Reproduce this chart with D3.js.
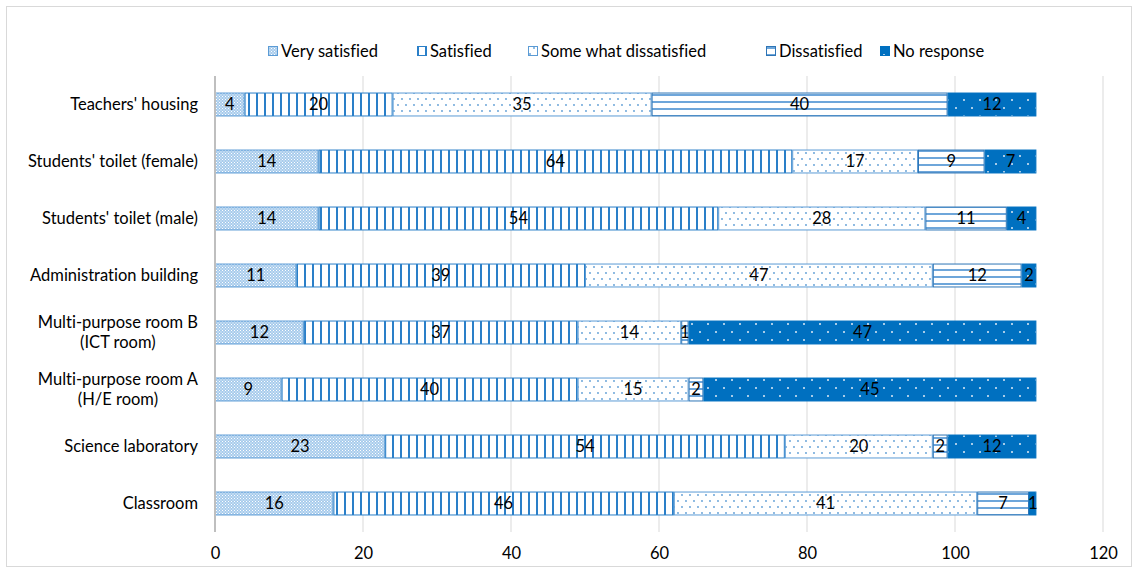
<!DOCTYPE html>
<html>
<head>
<meta charset="utf-8">
<script src="https://cdn.jsdelivr.net/npm/d3@7"></script>
<style>
  html, body { margin: 0; padding: 0; background: #fff; }
  svg { display: block; font-family: Lato, "Liberation Sans", sans-serif; font-variant-ligatures: none; }
</style>
</head>
<body>
<svg id="chart" width="1138" height="573"></svg>
<script>
// Categories, top to bottom
const categories = [
  "Teachers' housing",
  "Students' toilet (female)",
  "Students' toilet (male)",
  "Administration building",
  "Multi-purpose room B\n(ICT room)",
  "Multi-purpose room A\n(H/E room)",
  "Science laboratory",
  "Classroom"
];
const seriesNames = ["Very satisfied", "Satisfied", "Some what dissatisfied", "Dissatisfied", "No response"];
const verySatisfied = [4, 14, 14, 11, 12, 9, 23, 16];
const satisfied = [20, 64, 54, 39, 37, 40, 54, 46];
const somewhatDissatisfied = [35, 17, 28, 47, 14, 15, 20, 41];
const dissatisfied = [40, 9, 11, 12, 1, 2, 2, 7];
const noResponse = [12, 7, 4, 2, 47, 45, 12, 1];
const xTicks = [0, 20, 40, 60, 80, 100, 120];

const seriesValues = [verySatisfied, satisfied, somewhatDissatisfied, dissatisfied, noResponse];
const rows = categories.map((c, i) => {
  const r = { category: c };
  seriesNames.forEach((s, j) => { r[s] = seriesValues[j][i]; });
  return r;
});

const svg = d3.select("#chart");
const W = 1138, H = 573;
const margin = { left: 215, right: 35, top: 76, bottom: 41 };
const fontSize = 16.5;

// Outer chart frame
svg.append("rect")
  .attr("x", 6.5).attr("y", 6.5).attr("width", W - 13).attr("height", H - 13)
  .attr("fill", "#fff").attr("stroke", "#d9d9d9").attr("stroke-width", 1);

// Fill patterns
const defs = svg.append("defs");
const blue = "#0070c0";
function pat(id, w, h) {
  return defs.append("pattern").attr("id", id).attr("patternUnits", "userSpaceOnUse")
    .attr("width", w).attr("height", h);
}
// dense dotted
let p = pat("p-vs", 3, 3);
p.append("rect").attr("width", 3).attr("height", 3).attr("fill", "#a7cbec");
p.append("rect").attr("x", 0).attr("y", 0).attr("width", 1).attr("height", 1).attr("fill", "#ffffff");
p.append("rect").attr("x", 1.5).attr("y", 1.5).attr("width", 1).attr("height", 1).attr("fill", "#ffffff");
// vertical lines
p = pat("p-s", 8, 8);
p.append("rect").attr("width", 8).attr("height", 8).attr("fill", "#fff");
p.append("rect").attr("x", 0).attr("width", 2).attr("height", 8).attr("fill", "#2a7fc8");
// sparse dots
p = pat("p-sd", 8, 12);
p.append("rect").attr("width", 8).attr("height", 12).attr("fill", "#fff");
p.append("circle").attr("cx", 2).attr("cy", 3).attr("r", 0.9).attr("fill", "#5b9bd5");
p.append("circle").attr("cx", 6).attr("cy", 9).attr("r", 0.9).attr("fill", "#5b9bd5");
// horizontal lines
p = pat("p-d", 8, 7);
p.append("rect").attr("width", 8).attr("height", 7).attr("fill", "#fff");
p.append("rect").attr("y", 3).attr("width", 8).attr("height", 2).attr("fill", "#6ea6da");
// solid with white dots
p = pat("p-nr", 16, 16);
p.append("rect").attr("width", 16).attr("height", 16).attr("fill", blue);
p.append("circle").attr("cx", 4).attr("cy", 4).attr("r", 1).attr("fill", "#dfeaf6");
p.append("circle").attr("cx", 12).attr("cy", 12).attr("r", 1).attr("fill", "#dfeaf6");

const fills = ["url(#p-vs)", "url(#p-s)", "url(#p-sd)", "url(#p-d)", "url(#p-nr)"];
const strokes = ["#5b9bd5", "#2a7fc8", "#5b9bd5", "#2e75b6", blue];

const x = d3.scaleLinear().domain([0, 120]).range([margin.left, W - margin.right]);
const y = d3.scaleBand().domain(categories).range([margin.top, H - margin.bottom])
  .paddingInner(0.58).paddingOuter(0.29);

// Gridlines
svg.append("g").selectAll("line").data(xTicks.filter(t => t > 0)).join("line")
  .attr("x1", d => x(d)).attr("x2", d => x(d))
  .attr("y1", margin.top).attr("y2", H - margin.bottom)
  .attr("stroke", "#d9d9d9").attr("stroke-width", 1);

// X axis (labels only)
const xAxis = svg.append("g")
  .attr("transform", `translate(0,${H - margin.bottom})`)
  .call(d3.axisBottom(x).tickValues(xTicks).tickSize(0).tickPadding(15));
xAxis.select(".domain").remove();
xAxis.selectAll("text").attr("font-size", fontSize).attr("fill", "#000").attr("font-family", "Lato, sans-serif");

// Stacked bars
const stack = d3.stack().keys(seriesNames)(rows);
const layers = svg.append("g").selectAll("g").data(stack).join("g")
  .attr("fill", (d, i) => fills[i]).attr("stroke", (d, i) => strokes[i]);
layers.selectAll("rect").data(d => d).join("rect")
  .attr("x", d => x(d[0]) + 0.5)
  .attr("y", d => y(d.data.category) + 0.5)
  .attr("width", d => x(d[1]) - x(d[0]) - 1)
  .attr("height", y.bandwidth() - 1)
  .attr("stroke-width", 1);

// Value labels
const labels = svg.append("g").attr("font-size", fontSize).attr("text-anchor", "middle").attr("fill", "#000");
stack.forEach(layer => {
  layer.forEach(d => {
    labels.append("text")
      .attr("x", (x(d[0]) + x(d[1])) / 2)
      .attr("y", y(d.data.category) + y.bandwidth() / 2)
      .attr("dy", "0.36em")
      .text(d[1] - d[0]);
  });
});

// Left axis line
svg.append("line")
  .attr("x1", x(0)).attr("x2", x(0))
  .attr("y1", margin.top).attr("y2", H - margin.bottom)
  .attr("stroke", "#bfbfbf").attr("stroke-width", 2);

// Category labels (multi-line labels centred within a right-aligned block)
const catG = svg.append("g").attr("font-size", fontSize).attr("fill", "#000");
categories.forEach(c => {
  const lines = c.split("\n");
  const cy = y(c) + y.bandwidth() / 2;
  const g = catG.append("g");
  const texts = lines.map((ln, i) => g.append("text")
    .attr("y", cy + (i - (lines.length - 1) / 2) * 20)
    .attr("dy", "0.36em").text(ln));
  const widths = texts.map(t => t.node().getComputedTextLength());
  const maxW = Math.max(...widths);
  const right = x(0) - 17;
  texts.forEach(t => t.attr("x", right - maxW / 2).attr("text-anchor", "middle"));
});

// Legend
const legendX = [268, 417, 528, 766, 880];
const leg = svg.append("g").attr("font-size", fontSize);
seriesNames.forEach((s, i) => {
  const g = leg.append("g").attr("transform", `translate(${legendX[i]},51)`);
  g.append("rect").attr("x", 0.5).attr("y", -4.5).attr("width", 9).attr("height", 9)
    .attr("fill", fills[i]).attr("stroke", strokes[i]);
  g.append("text").attr("x", 13).attr("dy", "0.36em").text(s);
});
</script>
</body>
</html>
